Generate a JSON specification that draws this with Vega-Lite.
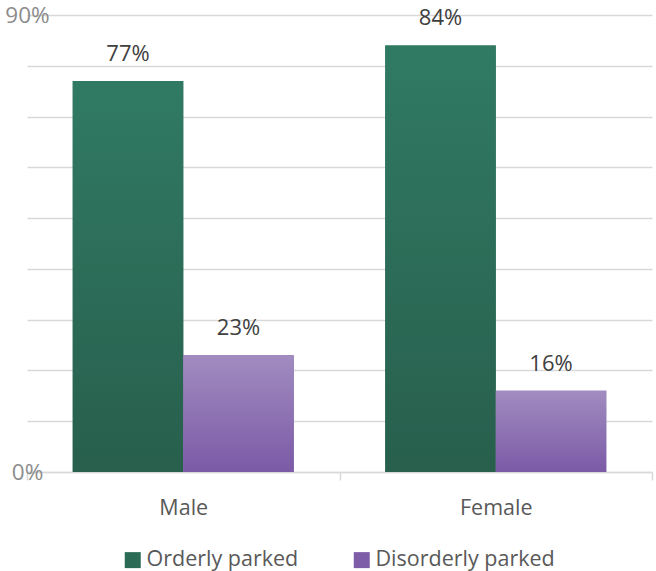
{
  "$schema": "https://vega.github.io/schema/vega-lite/v6.json",
  "width": 625,
  "height": 457,
  "autosize": "none",
  "padding": {"left": 27, "top": 15, "right": 4, "bottom": 99},
  "background": "white",
  "config": {"font": "Open Sans", "view": {"stroke": null}},
  "data": {
    "values": [
      {"gender": "Male", "status": "Orderly parked", "pct": 0.77},
      {"gender": "Male", "status": "Disorderly parked", "pct": 0.23},
      {"gender": "Female", "status": "Orderly parked", "pct": 0.84},
      {"gender": "Female", "status": "Disorderly parked", "pct": 0.16}
    ]
  },
  "encoding": {
    "x": {
      "field": "gender", "type": "nominal", "sort": ["Male", "Female"],
      "scale": {"paddingInner": 0, "paddingOuter": 0},
      "axis": {
        "title": null, "labelAngle": 0, "domainColor": "#d9d9d9", "domainWidth": 1.5,
        "tickColor": "#d9d9d9", "tickWidth": 1.5, "tickSize": 8, "tickBand": "extent",
        "labelFontSize": 21.5, "labelColor": "#595959", "labelPadding": 17
      }
    },
    "xOffset": {
      "field": "status", "type": "nominal", "sort": ["Orderly parked", "Disorderly parked"],
      "scale": {"paddingInner": 0, "paddingOuter": 0.414}
    },
    "y": {
      "field": "pct", "type": "quantitative",
      "scale": {"domain": [0, 0.9]},
      "axis": {
        "title": null, "values": [0, 0.1, 0.2, 0.3, 0.4, 0.5, 0.6, 0.7, 0.8, 0.9],
        "labelExpr": "datum.value < 0.01 || datum.value > 0.89 ? format(datum.value, '.0%') : ''",
        "grid": true, "gridColor": "#d9d9d9", "gridWidth": 1.5,
        "domain": false, "ticks": false, "labelAlign": "center", "labelPadding": 0,
        "labelFlush": false, "labelOverlap": false,
        "labelFontSize": 22.5, "labelColor": "#8c8c8c"
      }
    }
  },
  "layer": [
    {
      "mark": {"type": "bar"},
      "encoding": {
        "color": {
          "field": "status", "type": "nominal", "sort": ["Orderly parked", "Disorderly parked"],
          "scale": {"range": ["#2b6a55", "#7d5ca8"]},
          "legend": {
            "orient": "none", "legendX": 95, "legendY": 534, "direction": "horizontal",
            "title": null, "symbolType": "square", "symbolSize": 256, "symbolStrokeWidth": 0,
            "labelFontSize": 21.5, "labelColor": "#595959", "columnPadding": 52, "labelOffset": 3,
            "labelLimit": 0
          }
        }
      }
    },
    {
      "transform": [{"filter": "datum.status == 'Orderly parked'"}],
      "mark": {
        "type": "bar",
        "color": {
          "gradient": "linear", "x1": 0, "y1": 0, "x2": 0, "y2": 1,
          "stops": [{"offset": 0, "color": "#307a63"}, {"offset": 1, "color": "#285f4d"}]
        }
      }
    },
    {
      "transform": [{"filter": "datum.status == 'Disorderly parked'"}],
      "mark": {
        "type": "bar",
        "color": {
          "gradient": "linear", "x1": 0, "y1": 0, "x2": 0, "y2": 1,
          "stops": [{"offset": 0, "color": "#a18cc0"}, {"offset": 1, "color": "#7b5aa6"}]
        }
      }
    },
    {
      "mark": {"type": "text", "baseline": "bottom", "dy": -15, "fontSize": 22, "color": "#404040"},
      "encoding": {"text": {"field": "pct", "type": "quantitative", "format": ".0%"}}
    }
  ]
}
